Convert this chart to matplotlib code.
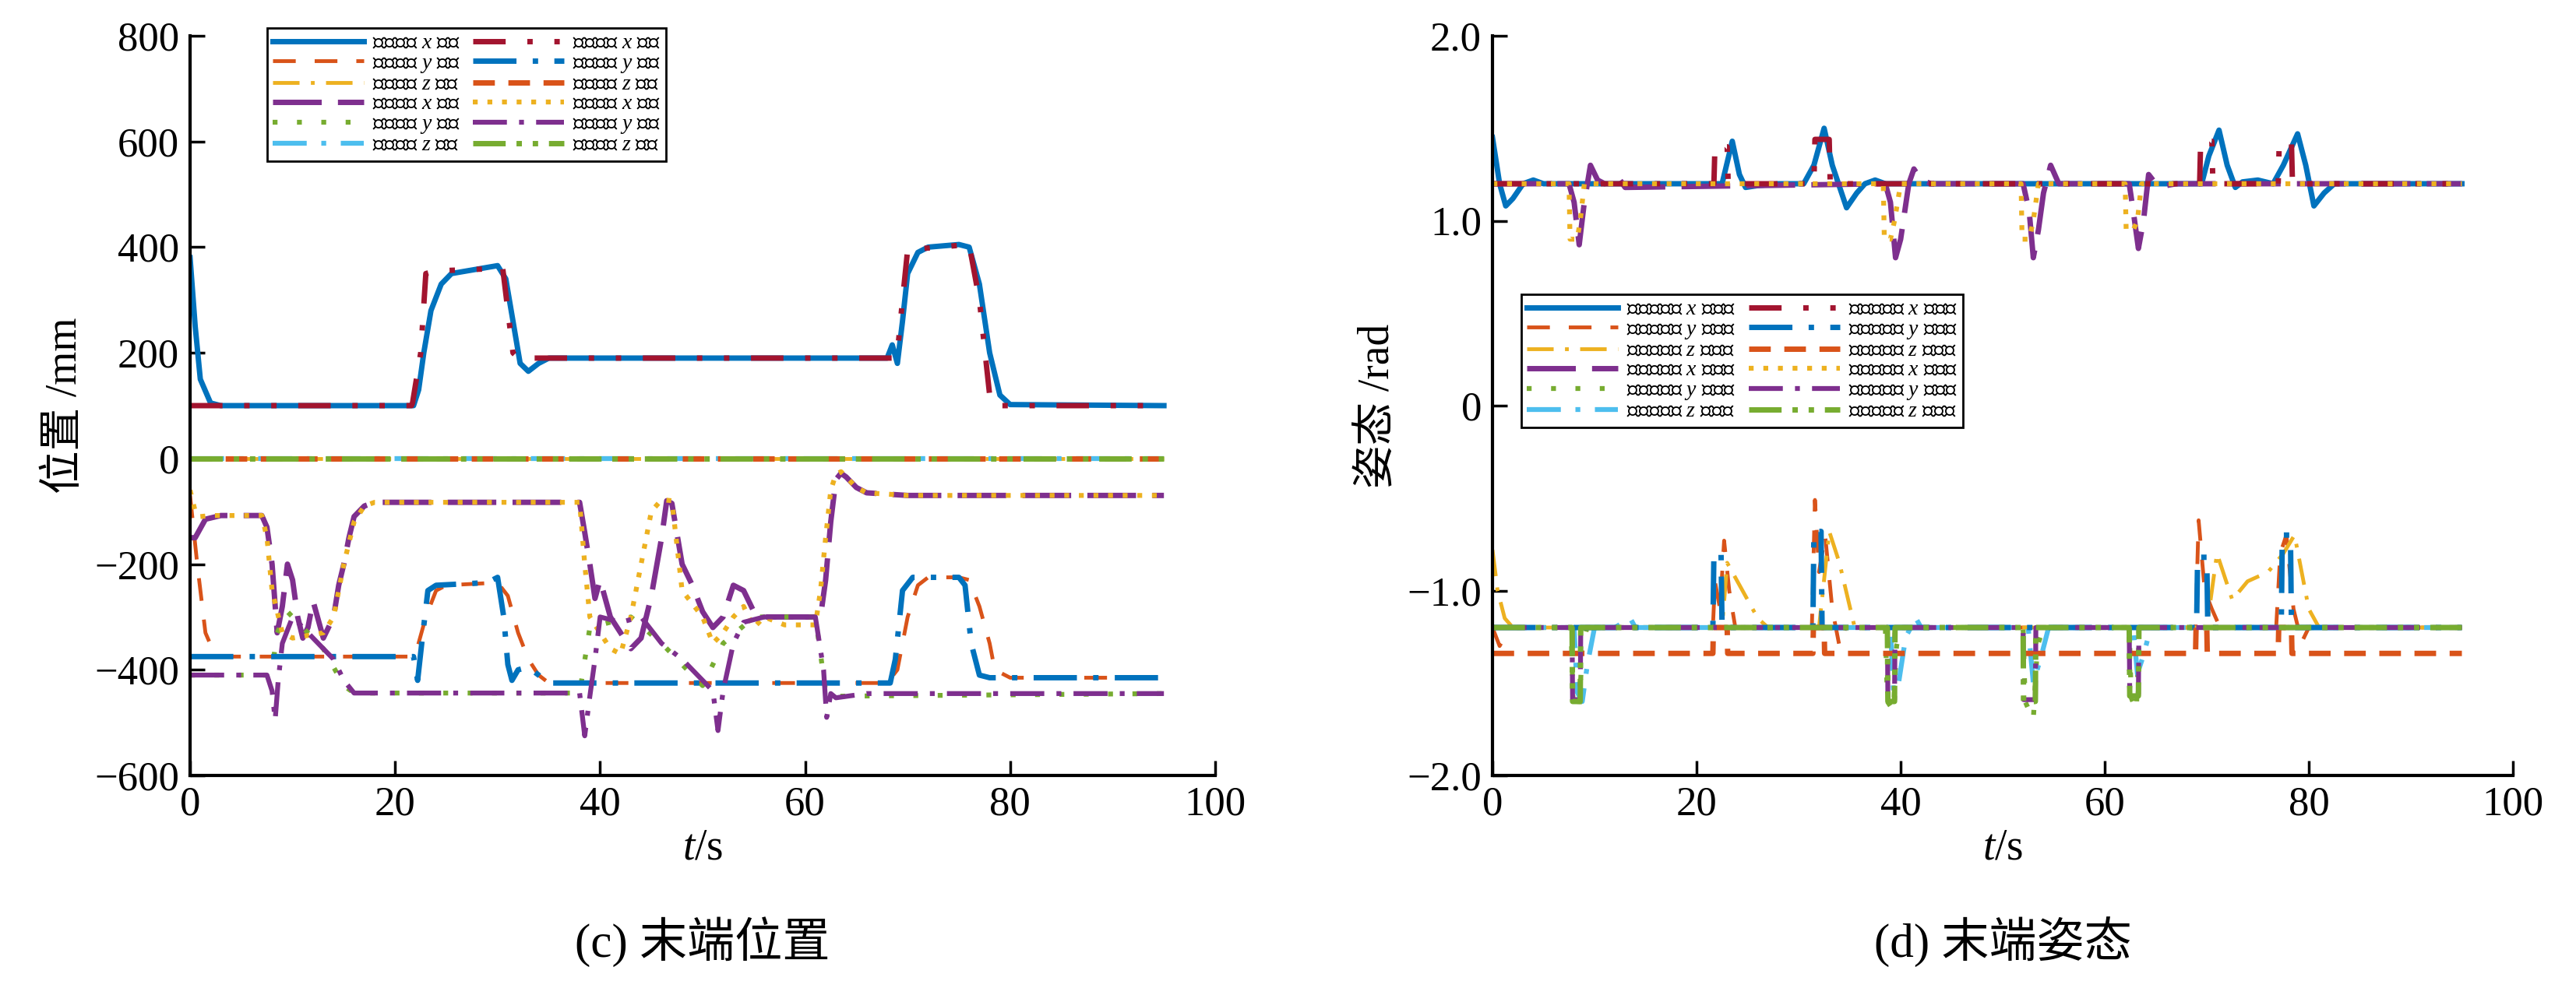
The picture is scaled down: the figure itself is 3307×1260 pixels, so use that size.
import matplotlib
matplotlib.use("Agg")
import matplotlib.pyplot as plt

plt.rcParams['font.family'] = ['Liberation Serif', 'Noto Sans CJK SC', 'DejaVu Sans']
plt.rcParams['mathtext.fontset'] = 'custom'
plt.rcParams['mathtext.rm'] = 'Noto Sans CJK SC'
plt.rcParams['mathtext.it'] = 'Liberation Serif:italic'
plt.rcParams['mathtext.bf'] = 'Liberation Serif:bold'
plt.rcParams['axes.unicode_minus'] = False

# ---------------- (c) 末端位置 data (t, mm) ----------------
l_end_x = [(0,380),(0.5,250),(1,150),(2,105),(3,100),(21.8,100),(22.3,130),(22.8,200),(23.5,280),(24.5,330),(25.5,350),(27,355),(30,365),(30.8,340),(31.5,260),(32.2,180),(33,165),(34,180),(35,190),(68,190),(68.5,215),(69,180),(69.5,260),(70,350),(71,390),(72,400),(75,405),(76,400),(77,330),(78,200),(79,120),(80,102),(95,100)]
l_tgt_x = [(0,100),(21.6,100),(21.7,105),(22.5,200),(23,350),(24,355),(30.5,360),(31.5,200),(32,190),(68.8,190),(69,200),(69.5,300),(70,395),(76,405),(77,300),(78,120),(78.5,100),(95,100)]
l_end_y = [(0,-70),(0.7,-200),(1.5,-330),(2.5,-375),(21.5,-375),(22,-370),(23,-300),(24,-250),(25,-240),(30,-235),(31,-260),(32,-330),(33,-380),(34,-410),(35,-425),(68,-425),(69,-400),(70,-300),(71,-240),(72,-225),(75,-225),(76,-230),(77,-280),(78,-350),(78.5,-400),(80,-415),(95,-415)]
l_tgt_y = [(0,-375),(21.8,-375),(22.2,-420),(22.6,-350),(23.2,-250),(24,-240),(29,-235),(30,-225),(30.6,-300),(31,-390),(31.4,-420),(32,-400),(33,-395),(35,-425),(68.3,-425),(68.8,-380),(69.5,-250),(70.5,-225),(75,-225),(75.6,-240),(76.2,-350),(77,-410),(78,-415),(95,-415)]
l_end_z = [(0,0),(95,0)]
l_tgt_z = [(0,0),(95,0)]
r_end_x = [(0,-150),(0.5,-150),(1.5,-115),(3,-108),(7,-108),(7.5,-130),(8,-200),(8.5,-330),(9,-280),(9.5,-200),(10,-230),(10.5,-300),(11,-340),(11.5,-320),(12,-270),(13,-340),(14,-300),(14.5,-240),(15,-200),(15.5,-150),(16,-110),(17,-90),(18,-83),(38,-83),(38.5,-140),(39,-200),(39.5,-265),(40,-230),(41,-300),(42,-330),(43,-360),(44,-340),(45,-260),(46,-150),(46.5,-80),(47,-85),(48,-200),(49,-240),(50,-290),(51,-320),(52,-300),(53,-240),(54,-250),(55,-290),(56,-300),(61.5,-300),(62,-230),(62.5,-120),(63,-40),(63.5,-28),(64,-35),(65,-55),(66,-65),(70,-70),(95,-70)]
r_tgt_x = [(0,-60),(0.5,-100),(1,-110),(2,-108),(7,-108),(7.5,-150),(8,-250),(9,-330),(10,-340),(13,-330),(14,-300),(15,-200),(16,-120),(17,-90),(18,-83),(38,-83),(38.5,-200),(39,-300),(40,-330),(41,-360),(42,-370),(43,-300),(44,-200),(45,-100),(46,-78),(47,-80),(48,-250),(50,-300),(51,-350),(52,-330),(53,-300),(54,-280),(55,-320),(56,-300),(58,-315),(61,-315),(61.5,-250),(62,-150),(62.5,-60),(63,-30),(63.5,-25),(64,-35),(65,-55),(66,-65),(70,-70),(95,-70)]
r_end_y = [(0,-410),(7.5,-410),(8,-400),(8.5,-330),(9.5,-290),(11,-320),(13,-360),(15,-430),(16,-444),(38,-444),(39,-320),(41,-310),(43,-300),(46,-350),(50,-430),(52,-350),(55,-300),(61,-300),(62,-440),(63,-450),(95,-445)]
r_tgt_y = [(0,-410),(7.5,-410),(8,-440),(8.3,-495),(8.6,-420),(9,-350),(10,-300),(12,-340),(14,-380),(15,-420),(16,-444),(38,-444),(38.5,-525),(39,-450),(39.5,-380),(40,-300),(42,-310),(44,-300),(46,-350),(48,-380),(50,-420),(51,-440),(51.5,-515),(52,-440),(53,-350),(54,-310),(56,-300),(61,-300),(61.8,-400),(62.1,-490),(62.5,-445),(63,-453),(66,-445),(95,-445)]
r_end_z = [(0,0),(95,0)]
r_tgt_z = [(0,0),(95,0)]

# ---------------- (d) 末端姿态 data (t, rad) ----------------
a_l_end_x = [(0,1.45),(0.7,1.2),(1.3,1.08),(2,1.12),(3,1.2),(4,1.22),(5,1.2),(22.5,1.2),(23.5,1.43),(24.2,1.25),(24.8,1.18),(26,1.19),(28,1.2),(30.5,1.2),(31.5,1.3),(32.5,1.50),(33.3,1.3),(34.7,1.07),(35.7,1.15),(36.5,1.2),(37.5,1.22),(38.5,1.2),(69.5,1.2),(70.2,1.35),(71.2,1.49),(72,1.3),(72.8,1.18),(73.5,1.21),(75,1.22),(76.5,1.2),(77.5,1.3),(78.9,1.47),(79.7,1.3),(80.5,1.08),(81.5,1.15),(82.5,1.2),(95,1.2)]
a_l_tgt_x = [(0,1.2),(21.7,1.2),(21.8,1.40),(23,1.40),(23.1,1.2),(31.5,1.2),(31.6,1.44),(33,1.44),(33.1,1.2),(69.3,1.2),(69.4,1.43),(70.5,1.43),(70.6,1.2),(77,1.2),(77.1,1.42),(78.3,1.42),(78.4,1.2),(95,1.2)]
a_l_end_y = [(0,-1.2),(0.7,-1.3),(1.5,-1.22),(2,-1.2),(21.6,-1.2),(21.8,-0.95),(22.3,-1.1),(22.7,-0.73),(23.2,-1.0),(23.8,-1.2),(31.3,-1.2),(31.6,-0.51),(32,-0.9),(32.6,-0.7),(33.3,-1.1),(34,-1.3),(34.6,-1.2),(68.9,-1.2),(69.2,-0.62),(69.8,-1.0),(70.5,-1.1),(71.3,-1.2),(76.8,-1.2),(77.2,-0.8),(77.8,-0.7),(78.5,-1.1),(79.3,-1.28),(80,-1.2),(95,-1.2)]
a_l_tgt_y = [(0,-1.2),(21.6,-1.2),(21.7,-0.80),(22.4,-0.80),(22.5,-1.2),(31.4,-1.2),(31.5,-0.68),(32.2,-0.68),(32.3,-1.2),(69,-1.2),(69.1,-0.82),(70,-0.82),(70.1,-1.2),(77.3,-1.2),(77.4,-0.7),(78.2,-0.7),(78.3,-1.2),(95,-1.2)]
a_l_end_z = [(0,-0.78),(0.5,-1.0),(1.2,-1.15),(2,-1.2),(22.5,-1.2),(23,-0.85),(24,-0.95),(26,-1.15),(27,-1.2),(32,-1.2),(33,-0.68),(34,-0.85),(35.5,-1.2),(70,-1.2),(71,-0.8),(72.5,-1.05),(74,-0.95),(76,-0.9),(77.5,-0.8),(78.6,-0.7),(80,-1.1),(81,-1.2),(95,-1.2)]
a_l_tgt_z = [(0,-1.34),(21.6,-1.34),(21.65,-1.2),(23,-1.2),(23.05,-1.34),(31.4,-1.34),(31.45,-1.2),(32.5,-1.2),(32.55,-1.34),(68.9,-1.34),(68.95,-1.2),(70,-1.2),(70.05,-1.34),(77,-1.34),(77.05,-1.2),(78.3,-1.2),(78.35,-1.34),(95,-1.34)]
a_r_end_x = [(0,1.2),(7.5,1.2),(8,1.1),(8.5,0.87),(9,1.1),(9.6,1.3),(10.3,1.22),(11,1.2),(12.5,1.22),(13,1.18),(38.5,1.2),(39,1.1),(39.5,0.8),(40,0.9),(40.8,1.2),(41.3,1.28),(42,1.22),(43,1.2),(52,1.2),(52.6,1.05),(53,0.8),(53.5,0.95),(54,1.15),(54.7,1.3),(55.5,1.2),(62.4,1.2),(62.8,1.05),(63.3,0.85),(63.8,1.0),(64.3,1.25),(65,1.2),(66,1.19),(67,1.2),(95,1.2)]
a_r_tgt_x = [(0,1.2),(7.5,1.2),(7.6,0.9),(8.3,0.9),(8.6,1.0),(9,1.2),(38.3,1.2),(38.4,0.9),(39,0.9),(39.4,1.0),(40,1.2),(51.8,1.2),(51.9,0.9),(52.6,0.9),(53,1.0),(53.5,1.2),(62,1.2),(62.1,0.95),(62.8,0.95),(63.2,1.0),(63.6,1.2),(95,1.2)]
a_r_end_y = [(0,-1.2),(7.7,-1.2),(7.9,-1.6),(8.5,-1.65),(8.8,-1.3),(9.5,-1.15),(10,-1.2),(38.5,-1.2),(38.7,-1.6),(39.3,-1.65),(39.6,-1.3),(40,-1.2),(52,-1.2),(52.2,-1.6),(53,-1.7),(53.4,-1.3),(54,-1.2),(62.4,-1.2),(62.6,-1.58),(63.1,-1.65),(63.4,-1.2),(95,-1.2)]
a_r_tgt_y = [(0,-1.2),(7.8,-1.2),(7.85,-1.59),(8.6,-1.59),(8.65,-1.2),(38.7,-1.2),(38.75,-1.59),(39.4,-1.59),(39.45,-1.2),(52,-1.2),(52.05,-1.59),(53.2,-1.59),(53.25,-1.2),(62.4,-1.2),(62.45,-1.56),(63.3,-1.56),(63.35,-1.2),(95,-1.2)]
a_r_end_z = [(0,-1.2),(8,-1.2),(8.3,-1.55),(8.8,-1.6),(9.3,-1.4),(10,-1.2),(12,-1.2),(13.5,-1.15),(14,-1.2),(39,-1.2),(39.3,-1.55),(39.8,-1.5),(40.5,-1.25),(41.5,-1.15),(42,-1.2),(52.5,-1.2),(53,-1.5),(53.8,-1.35),(54.5,-1.2),(62.8,-1.2),(63.2,-1.45),(63.8,-1.35),(64.5,-1.2),(95,-1.2)]
a_r_tgt_z = [(0,-1.2),(7.8,-1.2),(7.85,-1.6),(8.6,-1.6),(8.65,-1.2),(38.7,-1.2),(38.75,-1.6),(39.4,-1.6),(39.45,-1.2),(52,-1.2),(52.05,-1.6),(53.2,-1.6),(53.25,-1.2),(62.4,-1.2),(62.45,-1.57),(63.3,-1.57),(63.35,-1.2),(95,-1.2)]

pos_labels = ['左臂末端 $x$ 方向','左臂末端 $y$ 方向','左臂末端 $z$ 方向','右臂末端 $x$ 方向','右臂末端 $y$ 方向','右臂末端 $z$ 方向',
              '左臂目标 $x$ 方向','左臂目标 $y$ 方向','左臂目标 $z$ 方向','右臂目标 $x$ 方向','右臂目标 $y$ 方向','右臂目标 $z$ 方向']
ori_labels = ['左臂末端绕 $x$ 轴姿态','左臂末端绕 $y$ 轴姿态','左臂末端绕 $z$ 轴姿态','右臂末端绕 $x$ 轴姿态','右臂末端绕 $y$ 轴姿态','右臂末端绕 $z$ 轴姿态',
              '左臂目标绕 $x$ 轴姿态','左臂目标绕 $y$ 轴姿态','左臂目标绕 $z$ 轴姿态','右臂目标绕 $x$ 轴姿态','右臂目标绕 $y$ 轴姿态','右臂目标绕 $z$ 轴姿态']

BLUE, ORANGE, YELLOW, PURPLE, GREEN, CYAN, RED = '#0072BD', '#D95319', '#EDB120', '#7E2F8E', '#77AC30', '#4DBEEE', '#A2142F'
styles = [
    (BLUE, '-', 5),
    (ORANGE, (0, (6, 5)), 3.5),
    (YELLOW, (0, (7, 3, 1, 3)), 3.5),
    (PURPLE, (0, (9, 3)), 5),
    (GREEN, (0, (1, 4)), 4.5),
    (CYAN, (0, (7, 3, 1, 3)), 4.5),
    (RED, (0, (6, 4, 1, 4, 1, 4)), 5),
    (BLUE, (0, (8, 3, 1, 3)), 5),
    (ORANGE, (0, (4, 2.5)), 5),
    (YELLOW, (0, (1, 2)), 4.5),
    (PURPLE, (0, (7, 2.5, 1, 2.5)), 4.5),
    (GREEN, (0, (6, 2, 1, 2, 1, 2)), 5),
]

pos_series = [l_end_x, l_end_y, l_end_z, r_end_x, r_end_y, r_end_z, l_tgt_x, l_tgt_y, l_tgt_z, r_tgt_x, r_tgt_y, r_tgt_z]
ori_series = [a_l_end_x, a_l_end_y, a_l_end_z, a_r_end_x, a_r_end_y, a_r_end_z, a_l_tgt_x, a_l_tgt_y, a_l_tgt_z, a_r_tgt_x, a_r_tgt_y, a_r_tgt_z]

fig = plt.figure(figsize=(33.07, 12.6), dpi=100)
axL = fig.add_axes([244/3307, 1-996/1260, (1560-244)/3307, 950/1260])
axR = fig.add_axes([1916/3307, 1-996/1260, (3226-1916)/3307, 950/1260])

def draw(ax, series, labels):
    hs = []
    for s, (c, ls, lw), lab in zip(series, styles, labels):
        t = [p[0] for p in s]; v = [p[1] for p in s]
        h, = ax.plot(t, v, color=c, linestyle=ls, linewidth=lw, label=lab)
        hs.append(h)
    for sp in ['top', 'right']:
        ax.spines[sp].set_visible(False)
    for sp in ['left', 'bottom']:
        ax.spines[sp].set_linewidth(3)
    ax.tick_params(direction='in', length=14, width=2.5, labelsize=38, top=False, right=False, pad=10)
    ax.set_xlim(0, 100)
    ax.set_xticks([0, 20, 40, 60, 80, 100])
    return hs

hL = draw(axL, pos_series, pos_labels)
axL.set_ylim(-600, 800)
axL.set_yticks(range(-600, 801, 200))
axL.set_yticklabels(['\u2212600', '\u2212400', '\u2212200', '0', '200', '400', '600', '800'])
axL.set_ylabel('位置 /mm', fontsize=40, labelpad=8)
axL.set_xlabel('$t$/s', fontsize=40, labelpad=4)
legL = axL.legend(handles=hL, ncol=2, loc='upper left', bbox_to_anchor=(0.065, 1.025), fontsize=20,
                  handlelength=4.2, columnspacing=0.6, handletextpad=0.4, labelspacing=0.0,
                  borderpad=0.25, fancybox=False, edgecolor='black', framealpha=1)
legL.get_frame().set_linewidth(2)

hR = draw(axR, ori_series, ori_labels)
axR.set_ylim(-2.0, 2.0)
axR.set_yticks([-2.0, -1.0, 0, 1.0, 2.0])
axR.set_yticklabels(['\u22122.0', '\u22121.0', '0', '1.0', '2.0'])
axR.set_ylabel('姿态 /rad', fontsize=40, labelpad=8)
axR.set_xlabel('$t$/s', fontsize=40, labelpad=4)
legR = axR.legend(handles=hR, ncol=2, loc='upper left', bbox_to_anchor=(0.018, 0.665), fontsize=20,
                  handlelength=4.2, columnspacing=0.6, handletextpad=0.4, labelspacing=0.0,
                  borderpad=0.25, fancybox=False, edgecolor='black', framealpha=1)
legR.get_frame().set_linewidth(2)

fig.text((244+1560)/2/3307, 1-1210/1260, '(c) 末端位置', ha='center', va='center', fontsize=44)
fig.text((1916+3226)/2/3307, 1-1210/1260, '(d) 末端姿态', ha='center', va='center', fontsize=44)

fig.savefig('out.png', dpi=100)
